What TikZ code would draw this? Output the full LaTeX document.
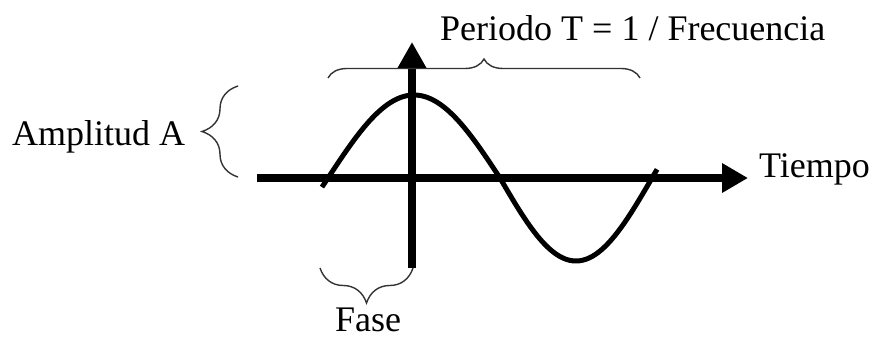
\documentclass[tikz,border=0pt]{standalone}
\usepackage{fontspec}
\setmainfont{Liberation Serif}
\usetikzlibrary{arrows.meta,decorations.pathreplacing}
\tikzset{
  lbl/.style={inner sep=0pt,anchor=base west,font=\fontsize{36}{40}\selectfont},
  axis/.style={line width=8pt,-{Triangle[length=26pt,width=28pt]}},
  wave/.style={line width=5pt},
  bracebox/.style={draw=black!80,line width=1.4pt,decorate},
}
\begin{document}
\begin{tikzpicture}[x=1pt,y=-1pt]
\useasboundingbox (0,0) rectangle (875,340);
% axes
\coordinate (hx0) at (257,178);
\coordinate (hx1) at (748,178);
\coordinate (vy0) at (412,268);
\coordinate (vy1) at (412,42);
\draw[axis] (hx0) -- (hx1);
\draw[axis,line width=8.5pt,-{Triangle[length=26pt,width=27pt]}] (vy0) -- (vy1);
% sine wave
\draw[wave] plot[domain=-6.3:180,samples=80,smooth] ({328+0.95556*\x},{178-83*sin(\x)})
  -- plot[domain=180:366,samples=80,smooth] ({500+0.84444*(\x-180)},{178-83*sin(\x)});
% braces
\coordinate (pb0) at (328,78);
\coordinate (pb1) at (640,78);
\draw[bracebox,decoration={brace,amplitude=19pt}] (pb0) -- (pb1);
\coordinate (ab0) at (238,177);
\coordinate (ab1) at (238,86);
\draw[bracebox,decoration={brace,amplitude=36pt}] (ab0) -- (ab1);
\coordinate (fb0) at (413,268);
\coordinate (fb1) at (320,268);
\draw[bracebox,decoration={brace,amplitude=35pt}] (fb0) -- (fb1);
% labels
\node[lbl] (periodo) at (440,40) {Periodo T = 1 / Frecuencia};
\node[lbl] (amplitud) at (12,145) {Amplitud A};
\node[lbl] (tiempo) at (759,177) {Tiempo};
\node[lbl] (fase) at (335,331) {Fase};
\end{tikzpicture}
\end{document}
